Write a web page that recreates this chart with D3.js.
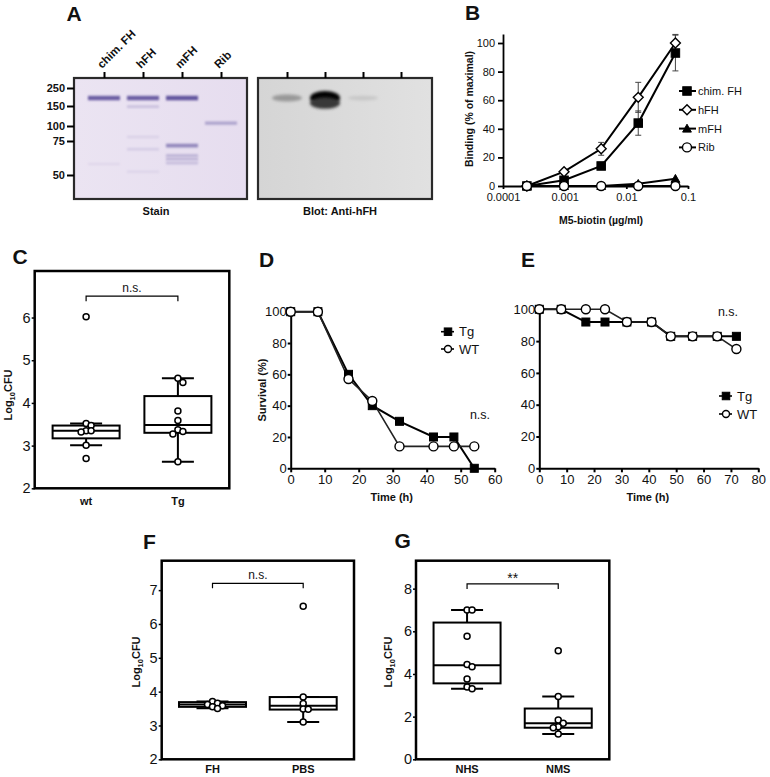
<!DOCTYPE html>
<html><head><meta charset="utf-8">
<script src="https://cdn.jsdelivr.net/npm/d3@7/dist/d3.min.js"></script>
<style>body{margin:0;background:#fff}text{font-family:"Liberation Sans",Arial,Helvetica,sans-serif}</style>
</head><body><svg id="fig" width="770" height="777"></svg>
<script>
// ===== Panel A: gel / blot =====
const gelLanes = ["chim. FH","hFH","mFH","Rib"];
const mwMarkers = [250,150,100,75,50];
const stainBandLane = ["chim. FH","chim. FH","hFH","hFH","hFH","hFH","hFH","mFH","mFH","mFH","mFH","mFH","Rib"];
const stainBandKDa  = [188,57,188,148,81,68,52,188,71,63,60.5,57.7,106];
const stainBandIntensity = [0.8,0.06,0.8,0.2,0.1,0.13,0.08,0.85,0.55,0.28,0.28,0.22,0.38];
const blotBandLane = ["chim. FH","hFH","hFH","mFH"];
const blotBandKDa = [188,188,163,188];
const blotBandIntensity = [0.3,1,0.75,0.08];

// ===== Panel B: binding =====
const bConc = [0.000244,0.000977,0.00391,0.0156,0.0625];
const bChim = [0,4,14,44,93];
const bChimErr = [0,0,0,8.5,12.5];
const bHFH = [0,10,26,62,100];
const bHFHErr = [0,0,4.5,10.5,6];
const bMFH = [0,0,0,1.5,5];
const bRib = [0,0,0,0,0];
const bSeries = ["chim. FH","hFH","mFH","Rib"];
const bXTicks = [0.0001,0.001,0.01,0.1];
const bYTicks = [0,20,40,60,80,100];

// ===== Panel C =====
const cGroups = ["wt","Tg"];
const cBoxWt = [3.01,3.17,3.35,3.47,3.52];
const cBoxTg = [2.62,3.30,3.48,4.16,4.58];
const cPtsWt = [6.02,3.52,3.47,3.35,3.35,3.32,3.01,2.70];
const cPtsTg = [4.58,4.48,3.81,3.59,3.37,3.33,3.27,2.62];
const cTicks = [2,3,4,5,6];

// ===== Panel D =====
const dTime = [0,8,17,24,32,42,48,54];
const dTg = [100,100,60,40,30,20,20,0];
const dWT = [100,100,57,43,14,14,14,14];
const dXTicks = [0,10,20,30,40,50,60];
const survTicks = [0,20,40,60,80,100];

// ===== Panel E =====
const eTime = [0,8,17,24,32,41,48,56,65,72];
const eTg = [100,100,92,92,92,92,83,83,83,83];
const eWT = [100,100,100,100,92,92,83,83,83,75];
const eXTicks = [0,10,20,30,40,50,60,70,80];

// ===== Panel F =====
const fGroups = ["FH","PBS"];
const fBoxFH = [3.51,3.55,3.62,3.69,3.71];
const fBoxPBS = [3.10,3.47,3.58,3.84,3.84];
const fPtsFH = [3.71,3.66,3.62,3.58,3.55,3.50];
const fPtsPBS = [6.52,3.84,3.65,3.49,3.48,3.10];
const fTicks = [2,3,4,5,6,7];

// ===== Panel G =====
const gGroups = ["NHS","NMS"];
const gBoxNHS = [3.31,3.56,4.41,6.41,7.0];
const gBoxNMS = [1.19,1.48,1.69,2.38,2.94];
const gPtsNHS = [7.0,7.0,5.77,4.44,4.34,3.77,3.39,3.31];
const gPtsNMS = [5.09,2.94,1.84,1.69,1.53,1.48,1.19];
const gTicks = [0,2,4,6,8];

// ------------------------------------------------------------
const FONT = '"Liberation Sans",Arial,Helvetica,sans-serif';
const svg = d3.select("#fig");
const defs = svg.append("defs");
function blurFilter(id, sd){
  defs.append("filter").attr("id",id).attr("x","-50%").attr("y","-300%").attr("width","200%").attr("height","700%")
    .append("feGaussianBlur").attr("stdDeviation",sd);
}
blurFilter("b1",0.9); blurFilter("b2",1.8);

function styleAxis(g, fs, sw, bold){
  g.attr("font-family",FONT).attr("font-size",fs);
  g.selectAll(".domain").attr("stroke","#000").attr("stroke-width",sw);
  g.selectAll(".tick line").attr("stroke","#000").attr("stroke-width",sw);
  g.selectAll(".tick text").attr("fill","#111").attr("font-weight",bold?"bold":"normal");
}
function letter(t,x,y){
  svg.append("text").attr("x",x).attr("y",y).attr("font-size",21).attr("font-weight","bold").attr("fill","#111").text(t);
}
function label(t,x,y,opt={}){
  const el = svg.append("text").attr("x",x).attr("y",y).attr("font-size",opt.fs||11)
    .attr("font-weight",opt.bold===false?"normal":"bold").attr("text-anchor",opt.anchor||"middle").attr("fill","#111");
  if(opt.rot) el.attr("transform",`rotate(${opt.rot},${x},${y})`);
  el.text(t);
  return el;
}
function logLabel(x,y){
  const el = svg.append("text").attr("x",x).attr("y",y).attr("font-size",11).attr("font-weight","bold")
    .attr("text-anchor","middle").attr("fill","#111").attr("transform",`rotate(-90,${x},${y})`);
  el.append("tspan").text("Log");
  el.append("tspan").attr("font-size",7.5).attr("dy",3).text("10");
  el.append("tspan").attr("dy",-3).text("CFU");
}

// ================= Panel A =================
letter("A",66.5,20.5);
const gelY = d3.scaleLog().domain(mwMarkers).range([88,106,126,141,175]);
function gel(x0,x1,lanesRange,bgA,bgB,gid){
  const gr = defs.append("linearGradient").attr("id",gid);
  gr.append("stop").attr("offset","0%").attr("stop-color",bgA);
  gr.append("stop").attr("offset","100%").attr("stop-color",bgB);
  svg.append("rect").attr("x",x0).attr("y",78).attr("width",x1-x0).attr("height",121).attr("fill",`url(#${gid})`);
  return d3.scalePoint().domain(gelLanes).range(lanesRange);
}
// stain
const stainX = gel(74,247,[104,221],"#ebe4f2","#e6ddef","gStain");
const stainBand = d3.interpolateRgb("#e8e0f0","#4a3c90");
stainBandLane.forEach((ln,i)=>{
  const it = stainBandIntensity[i];
  const h = 2 + 3*it;
  svg.append("rect").attr("x",stainX(ln)-16).attr("width",32)
    .attr("y",gelY(stainBandKDa[i])-h/2).attr("height",h)
    .attr("fill",stainBand(it)).attr("filter","url(#b1)");
});
svg.append("rect").attr("x",74).attr("y",78).attr("width",173).attr("height",121)
  .attr("fill","none").attr("stroke","#2a2a2a").attr("stroke-width",2.2);
const mwAx = svg.append("g").attr("transform","translate(74,0)")
  .call(d3.axisLeft(gelY).tickValues(mwMarkers).tickFormat(d3.format("d")).tickSize(7).tickPadding(2).tickSizeOuter(0));
mwAx.select(".domain").remove();
styleAxis(mwAx,11,2,true);
const topAx1 = svg.append("g").attr("transform","translate(0,78)")
  .call(d3.axisTop(stainX).tickSize(6).tickFormat("").tickSizeOuter(0));
topAx1.select(".domain").remove(); styleAxis(topAx1,11,2);
gelLanes.forEach(ln=>{
  const x = stainX(ln)-2, y = 69;
  svg.append("text").attr("x",x).attr("y",y).attr("font-size",11.5).attr("font-weight","bold")
    .attr("fill","#111").attr("transform",`rotate(-45,${x},${y})`).text(ln);
});
label("Stain",156,215);

// blot
const blotX = gel(258,432,[287,401],"#d5d5d5","#e1e1e1","gBlot");
const blotBand = d3.interpolateRgb("#d8d8d8","#040404");
blotBandLane.forEach((ln,i)=>{
  const it = blotBandIntensity[i];
  svg.append("ellipse").attr("cx",blotX(ln)).attr("cy",gelY(blotBandKDa[i]))
    .attr("rx",15).attr("ry",2+5*it).attr("fill",blotBand(it)).attr("filter","url(#b2)");
});
svg.append("rect").attr("x",258).attr("y",78).attr("width",174).attr("height",121)
  .attr("fill","none").attr("stroke","#2a2a2a").attr("stroke-width",2.2);
const topAx2 = svg.append("g").attr("transform","translate(0,78)")
  .call(d3.axisTop(blotX).tickSize(6).tickFormat("").tickSizeOuter(0));
topAx2.select(".domain").remove(); styleAxis(topAx2,11,2);
label("Blot: Anti-hFH",340,215);

// ================= Panel B =================
letter("B",465,20);
function mark(g,type,cx,cy,s,fill){
  if(type==="circle"){
    g.append("circle").attr("cx",cx).attr("cy",cy).attr("r",s/2).attr("fill",fill).attr("stroke","#000").attr("stroke-width",1.4);
  } else if(type==="square"){
    g.append("rect").attr("x",cx-s/2).attr("y",cy-s/2).attr("width",s).attr("height",s).attr("fill",fill).attr("stroke","#000").attr("stroke-width",1);
  } else if(type==="diamond"){
    const h=s*0.62;
    g.append("path").attr("d",`M${cx},${cy-h}L${cx+h},${cy}L${cx},${cy+h}L${cx-h},${cy}Z`).attr("fill",fill).attr("stroke","#000").attr("stroke-width",1.4);
  } else if(type==="triangle"){
    const h=s*0.55;
    g.append("path").attr("d",`M${cx},${cy-h}L${cx+h},${cy+h*0.8}L${cx-h},${cy+h*0.8}Z`).attr("fill",fill).attr("stroke","#000").attr("stroke-width",1);
  }
}
const bx = d3.scaleLog().domain([0.0001,0.1]).range([503,688]);
const by = d3.scaleLinear().domain([0,106.3]).range([186,34]);
const gB = svg.append("g");
const bAxY = gB.append("g").attr("transform","translate(503,0)")
  .call(d3.axisLeft(by).tickValues(bYTicks).tickFormat(d3.format("d")).tickSize(5).tickPadding(3).tickSizeOuter(0));
styleAxis(bAxY,11,1.8);
const bAxX = gB.append("g").attr("transform","translate(0,186)")
  .call(d3.axisBottom(bx).tickValues(bXTicks).tickFormat(d=>String(d)).tickSize(3).tickPadding(4).tickSizeOuter(0));
styleAxis(bAxX,11,1.8);
const bData = [bChim,bHFH,bMFH,bRib];
const bErr = [bChimErr,bHFHErr,null,null];
const bType = ["square","diamond","triangle","circle"];
const bFill = ["#000","#fff","#000","#fff"];
const bSize = [8.5,8,8,9];
const bLine = d3.line().x((d,i)=>bx(bConc[i])).y(d=>by(d));
[3,2,0,1].forEach(k=>{
  gB.append("path").attr("d",bLine(bData[k])).attr("fill","none").attr("stroke","#000").attr("stroke-width",2);
});
bErr.forEach((err,k)=>{
  if(!err) return;
  err.forEach((e,i)=>{
    if(e<=0) return;
    const x=bx(bConc[i]), y1=by(bData[k][i]-e), y2=by(bData[k][i]+e);
    gB.append("path").attr("d",`M${x},${y1}V${y2}M${x-3},${y1}H${x+3}M${x-3},${y2}H${x+3}`)
      .attr("stroke","#444").attr("stroke-width",1).attr("fill","none");
  });
});
[0,1,2,3].forEach(k=>{
  bData[k].forEach((v,i)=>mark(gB,bType[k],bx(bConc[i]),by(v),bSize[k],bFill[k]));
});
bSeries.forEach((s,k)=>{
  const y = 91 + k*18.8;
  gB.append("line").attr("x1",679).attr("x2",696).attr("y1",y).attr("y2",y).attr("stroke","#000").attr("stroke-width",2);
  mark(gB,bType[k],687,y,bSize[k],bFill[k]);
  gB.append("text").attr("x",698).attr("y",y).attr("dy","0.36em").attr("font-size",11).attr("fill","#111").text(s);
});
label("Binding (% of maximal)",473,109,{rot:-90,fs:10.5});
label("M5-biotin (µg/ml)",601,224,{fs:10.5});

// ================= Box panels =================
function swarm(vals,y){
  const placed=[];
  return vals.map(v=>{
    const py=y(v); let off=0;
    for(let k=0;k<30;k++){
      const c = k===0?0:(k%2?1:-1)*Math.ceil(k/2)*2.5;
      if(placed.every(p=>Math.hypot(p.x-c,p.y-py)>=5)){off=c;break;}
    }
    placed.push({x:off,y:py});
    return {dx:off,py};
  });
}
function boxPanel(o){
  const g = svg.append("g");
  const y = d3.scaleLinear().domain(o.domain).range([o.y1,o.y0]);
  const x = d3.scalePoint().domain(o.groups).range([o.x0,o.x1]).padding(0.56);
  const ax = g.append("g").attr("transform",`translate(${o.x0},0)`)
    .call(d3.axisLeft(y).tickValues(o.ticks).tickFormat(d3.format("d")).tickSize(3).tickPadding(1).tickSizeOuter(0));
  ax.select(".domain").remove(); styleAxis(ax,14.5,1.5);
  o.groups.forEach((grp,i)=>{
    const cx = x(grp), s = o.boxes[i], bw = 67, cw = 32;
    g.append("path").attr("d",`M${cx},${y(s[0])}V${y(s[1])}M${cx},${y(s[3])}V${y(s[4])}M${cx-cw/2},${y(s[0])}H${cx+cw/2}M${cx-cw/2},${y(s[4])}H${cx+cw/2}`)
      .attr("stroke","#000").attr("stroke-width",2).attr("fill","none");
    g.append("rect").attr("x",cx-bw/2).attr("width",bw).attr("y",y(s[3])).attr("height",y(s[1])-y(s[3]))
      .attr("fill","#fff").attr("stroke","#000").attr("stroke-width",2);
    g.append("line").attr("x1",cx-bw/2).attr("x2",cx+bw/2).attr("y1",y(s[2])).attr("y2",y(s[2]))
      .attr("stroke","#000").attr("stroke-width",2);
    swarm(o.points[i],y).forEach(p=>{
      g.append("circle").attr("cx",cx+p.dx).attr("cy",p.py).attr("r",3)
        .attr("fill","#fff").attr("stroke","#000").attr("stroke-width",1.5);
    });
    g.append("text").attr("x",cx).attr("y",o.labelY).attr("text-anchor","middle").attr("font-size",11)
      .attr("font-weight","bold").attr("fill","#111").text(grp);
  });
  const by0 = y(o.sigY), xa = x(o.groups[0]), xb = x(o.groups[1]);
  g.append("path").attr("d",`M${xa},${by0+5}V${by0}H${xb}V${by0+5}`).attr("fill","none").attr("stroke","#000").attr("stroke-width",1.2);
  g.append("text").attr("x",(xa+xb)/2).attr("y",by0-(o.sig==="**"?1:4)).attr("text-anchor","middle")
    .attr("font-size",o.sig==="**"?14:12).attr("fill","#111").text(o.sig);
  g.append("rect").attr("x",o.x0).attr("y",o.y0).attr("width",o.x1-o.x0).attr("height",o.y1-o.y0)
    .attr("fill","none").attr("stroke","#000").attr("stroke-width",2.5);
}

letter("C",12.5,263.5);
boxPanel({x0:34.7,x1:229.3,y0:271,y1:488.3,domain:[2,7.09],ticks:cTicks,groups:cGroups,
  boxes:[cBoxWt,cBoxTg],points:[cPtsWt,cPtsTg],sigY:6.5,sig:"n.s.",labelY:505});
logLabel(11.5,395);

letter("F",143,548.5);
boxPanel({x0:161.7,x1:354,y0:560.7,y1:759.3,domain:[2,7.87],ticks:fTicks,groups:fGroups,
  boxes:[fBoxFH,fBoxPBS],points:[fPtsFH,fPtsPBS],sigY:7.2,sig:"n.s.",labelY:773});
logLabel(139.5,662);

letter("G",394.5,547.5);
boxPanel({x0:416,x1:609.3,y0:560.7,y1:759.3,domain:[0,9.31],ticks:gTicks,groups:gGroups,
  boxes:[gBoxNHS,gBoxNMS],points:[gPtsNHS,gPtsNMS],sigY:8.22,sig:"**",labelY:773});
logLabel(391.5,662);

// ================= Survival panels =================
function survPanel(o){
  const g = svg.append("g");
  const x = d3.scaleLinear().domain(o.xd).range([o.x0,o.x1]);
  const y = d3.scaleLinear().domain([0,100]).range([o.y0,o.yTop]);
  const ay = g.append("g").attr("transform",`translate(${o.x0},0)`)
    .call(d3.axisLeft(y).tickValues(survTicks).tickSize(3).tickPadding(1).tickSizeOuter(0));
  styleAxis(ay,13,2);
  const axx = g.append("g").attr("transform",`translate(0,${o.y0})`)
    .call(d3.axisBottom(x).tickValues(o.xTicks).tickSize(4).tickPadding(2).tickSizeOuter(0));
  styleAxis(axx,13,2);
  const line = d3.line().x((d,i)=>x(o.t[i])).y(d=>y(d));
  g.append("path").attr("d",line(o.tg)).attr("fill","none").attr("stroke","#000").attr("stroke-width",2);
  g.append("path").attr("d",line(o.wt)).attr("fill","none").attr("stroke","#222").attr("stroke-width",1.6);
  o.tg.forEach((v,i)=>mark(g,"square",x(o.t[i]),y(v),8,"#000"));
  o.wt.forEach((v,i)=>mark(g,"circle",x(o.t[i]),y(v),9,"#fff"));
  [["Tg","square","#000",7.5],["WT","circle","#fff",7]].forEach((d,k)=>{
    const ly = o.legY[k];
    g.append("line").attr("x1",o.legX-7).attr("x2",o.legX+6).attr("y1",ly).attr("y2",ly).attr("stroke","#000").attr("stroke-width",1.6);
    mark(g,d[1],o.legX,ly,d[3],d[2]);
    g.append("text").attr("x",o.legX+11).attr("y",ly).attr("dy","0.36em").attr("font-size",13).attr("fill","#111").text(d[0]);
  });
  g.append("text").attr("x",o.nsX).attr("y",o.nsY).attr("text-anchor","middle").attr("font-size",12.5).attr("fill","#111").text("n.s.");
  label("Time (h)",(o.x0+o.x1)/2-1,501);
}
letter("D",259,266.5);
survPanel({x0:290.7,x1:494.7,y0:468.3,yTop:311.7,xd:[0,60],xTicks:dXTicks,t:dTime,tg:dTg,wt:dWT,
  legX:448,legY:[331.7,349],nsX:480,nsY:419});
label("Survival (%)",266,390,{rot:-90});

letter("E",521,266.5);
survPanel({x0:539.3,x1:758.3,y0:468.3,yTop:309.3,xd:[0,80],xTicks:eXTicks,t:eTime,tg:eTg,wt:eWT,
  legX:726,legY:[396,414],nsX:728,nsY:316});
</script></body></html>
